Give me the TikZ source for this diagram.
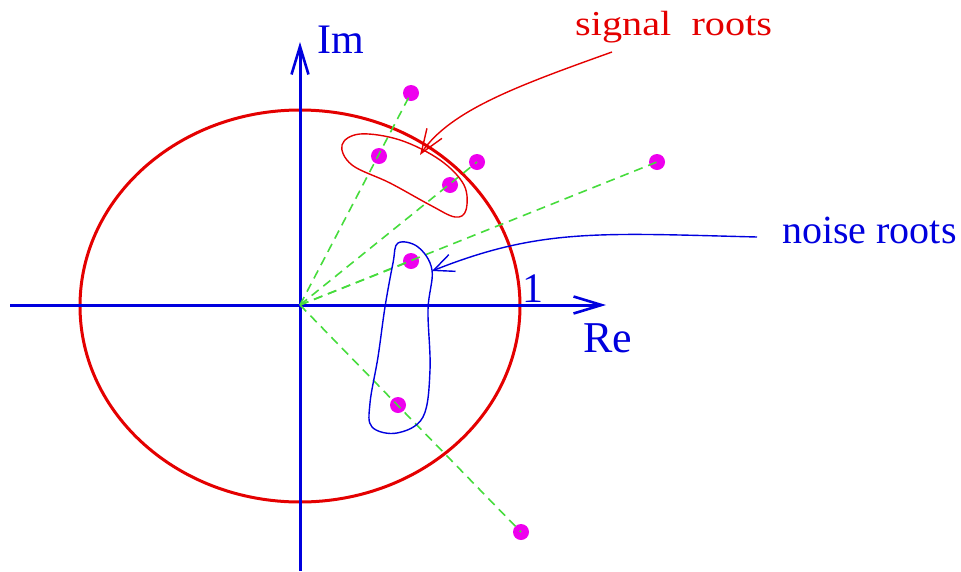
\documentclass[tikz,border=0pt]{standalone}
\usepackage{fontspec}
\setmainfont{Liberation Serif}
\usetikzlibrary{arrows.meta}
\definecolor{myred}{RGB}{228,0,0}
\definecolor{myblue}{RGB}{0,0,222}
\definecolor{mymag}{RGB}{238,0,238}
\definecolor{mygreen}{RGB}{70,220,60}
\tikzset{
  axis/.style={myblue,line width=3pt,-{Straight Barb[length=28pt,width=17pt,line width=2.6pt]}},
  root/.style={circle,fill=mymag,inner sep=0pt,minimum size=16pt},
  ray/.style={mygreen,line width=1.6pt,dash pattern=on 9pt off 6pt},
  lbl/.style={anchor=base west,inner sep=0pt},
}
\begin{document}
\begin{tikzpicture}[x=1pt,y=-1pt]
\useasboundingbox (0,0) rectangle (961,571);
% unit circle
\draw[myred,line width=3pt] (300,306) ellipse [x radius=220, y radius=196];
% axes
\coordinate (O) at (300,305);
\coordinate (xs) at (10,305);
\coordinate (xe) at (606,305);
\coordinate (ys) at (300,571);
\coordinate (ye) at (300,42);
\draw[axis] (xs) -- (xe);
\draw[axis] (ys) -- (ye);
% roots
\node[root] (r1) at (411,93) {};
\node[root] (r2) at (379,156) {};
\node[root] (r3) at (477,162) {};
\node[root] (r4) at (450,185) {};
\node[root] (r5) at (657,162) {};
\node[root] (r6) at (411,261) {};
\node[root] (r7) at (398,405) {};
\node[root] (r8) at (521,532) {};
% rays
\draw[ray] (O) -- (r1.center);
\draw[ray] (O) -- (r3.center);
\draw[ray] (O) -- (r5.center);
\draw[ray] (O) -- (r6.center);
\draw[ray] (O) -- (r8.center);
% labels
\node[lbl,myblue,font=\fontsize{42}{46}\selectfont] (im) at (317,53) {Im};
\node[lbl,myblue,font=\fontsize{44}{48}\selectfont] (re) at (583,352) {Re};
\node[lbl,myblue,font=\fontsize{42}{46}\selectfont] (one) at (522,302) {1};
\node[lbl,myred,font=\fontsize{35}{40}\selectfont,xscale=1.15] (sig) at (575,35) {signal\ \ roots};
\node[lbl,myblue,font=\fontsize{40}{44}\selectfont] (noi) at (782,243) {noise roots};
% signal group
\draw[myred,line width=1.4pt] plot[smooth cycle,tension=0.6] coordinates {(342,145) (360,134) (400,140) (440,160) (464,185) (466,210) (455,217) (430,205) (390,183) (352,165)};
\coordinate (sa) at (612,52);
\coordinate (st) at (420,155);
\draw[myred,line width=1.4pt,-{Straight Barb[length=24pt,width=18pt,line width=1.4pt]}] (sa) .. controls (520,85) and (450,110) .. (st);
% noise group
\draw[myblue,line width=1.4pt] plot[smooth cycle,tension=0.6] coordinates {(398,243) (418,247) (432,270) (428,310) (430,370) (423,417) (397,433) (372,427) (370,403) (378,357) (385,307) (393,263)};
\coordinate (na) at (757,237);
\coordinate (nt) at (432,271);
\draw[myblue,line width=1.4pt,-{Straight Barb[length=20pt,width=18pt,line width=1.4pt]}] (na) .. controls (600,233) and (540,228) .. (nt);
\end{tikzpicture}
\end{document}
